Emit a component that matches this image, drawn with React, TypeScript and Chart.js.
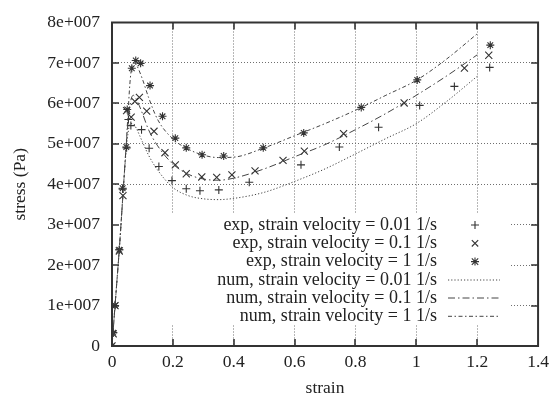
import React, { useEffect, useRef } from "react";
import { Chart, registerables } from "chart.js";

Chart.register(...registerables);

// ---- data ----
const xTickValues = [0, 0.2, 0.4, 0.6, 0.8, 1, 1.2, 1.4];
const yTickValues = [0, 1e7, 2e7, 3e7, 4e7, 5e7, 6e7, 7e7, 8e7];

const exp001X = [0, 0.004, 0.01, 0.024, 0.035, 0.048, 0.054, 0.062, 0.097, 0.122, 0.154, 0.197, 0.244, 0.289, 0.351, 0.451, 0.621, 0.747, 0.876, 1.011, 1.125, 1.241];
const exp001Y = [0, 0.33e7, 1.0e7, 2.38e7, 3.88e7, 4.9e7, 5.6e7, 5.45e7, 5.35e7, 4.89e7, 4.44e7, 4.09e7, 3.89e7, 3.84e7, 3.86e7, 4.05e7, 4.48e7, 4.92e7, 5.41e7, 5.95e7, 6.42e7, 6.89e7];

const exp01X = [0, 0.004, 0.01, 0.024, 0.036, 0.048, 0.063, 0.075, 0.09, 0.114, 0.138, 0.174, 0.208, 0.244, 0.295, 0.344, 0.394, 0.47, 0.562, 0.632, 0.761, 0.96, 1.158, 1.238];
const exp01Y = [0, 0.3e7, 1.0e7, 2.35e7, 3.72e7, 5.82e7, 5.66e7, 6.05e7, 6.15e7, 5.81e7, 5.31e7, 4.78e7, 4.48e7, 4.26e7, 4.18e7, 4.17e7, 4.23e7, 4.33e7, 4.59e7, 4.82e7, 5.25e7, 6.01e7, 6.87e7, 7.19e7];

const exp1X = [0, 0.004, 0.01, 0.024, 0.035, 0.047, 0.05, 0.065, 0.078, 0.094, 0.125, 0.166, 0.208, 0.244, 0.296, 0.367, 0.497, 0.63, 0.819, 1.003, 1.243];
const exp1Y = [0, 0.33e7, 1.0e7, 2.38e7, 3.9e7, 4.92e7, 5.85e7, 6.87e7, 7.06e7, 6.99e7, 6.44e7, 5.68e7, 5.14e7, 4.9e7, 4.73e7, 4.7e7, 4.9e7, 5.27e7, 5.9e7, 6.58e7, 7.44e7];

const numX = [0, 0.01, 0.025, 0.04, 0.05, 0.06, 0.07, 0.08, 0.1, 0.12, 0.15, 0.2, 0.25, 0.3, 0.35, 0.4, 0.5, 0.6, 0.7, 0.8, 0.9, 1.0, 1.1, 1.2];
const num001Y = [0, 1.0e7, 2.5e7, 4.2e7, 5.1e7, 5.5e7, 5.5e7, 5.38e7, 5.05e7, 4.72e7, 4.35e7, 3.92e7, 3.72e7, 3.64e7, 3.62e7, 3.65e7, 3.8e7, 4.07e7, 4.38e7, 4.75e7, 5.13e7, 5.5e7, 6.05e7, 6.67e7];
const num01Y = [0, 1.0e7, 2.5e7, 4.2e7, 5.3e7, 6.0e7, 6.2e7, 6.1e7, 5.75e7, 5.35e7, 4.95e7, 4.5e7, 4.25e7, 4.13e7, 4.1e7, 4.15e7, 4.38e7, 4.68e7, 4.98e7, 5.35e7, 5.75e7, 6.2e7, 6.68e7, 7.2e7];
const num1Y = [0, 1.0e7, 2.5e7, 4.2e7, 5.4e7, 6.6e7, 7.0e7, 6.95e7, 6.6e7, 6.15e7, 5.6e7, 5.12e7, 4.87e7, 4.72e7, 4.66e7, 4.67e7, 4.9e7, 5.2e7, 5.5e7, 5.83e7, 6.2e7, 6.57e7, 7.1e7, 7.72e7];

const legendLabels = [
  "exp, strain velocity = 0.01 1/s",
  "exp, strain velocity = 0.1 1/s",
  "exp, strain velocity = 1 1/s",
  "num, strain velocity = 0.01 1/s",
  "num, strain velocity = 0.1 1/s",
  "num, strain velocity = 1 1/s",
];

const xTitle = "strain";
const yTitle = "stress (Pa)";

// ---- styles ----
const FONT = "'Liberation Serif', 'DejaVu Serif', serif";
const FS = 17.5;
const LFS = 18;
const INK = "#333";
const LINE = "#444";
const dashes = [[1.2, 2], [7, 3, 1.5, 3], [4, 2.5, 1.5, 2.5]];
const markers = ["cross", "crossRot", "star"];

const zip = (xs: number[], ys: number[]) => xs.map((x, i) => ({ x, y: ys[i] }));

function drawMarker(ctx: CanvasRenderingContext2D, kind: string, x: number, y: number) {
  const r = 4;
  const d = 3.2;
  ctx.beginPath();
  if (kind === "cross" || kind === "star") {
    ctx.moveTo(x - r, y); ctx.lineTo(x + r, y);
    ctx.moveTo(x, y - r); ctx.lineTo(x, y + r);
  }
  if (kind === "crossRot" || kind === "star") {
    ctx.moveTo(x - d, y - d); ctx.lineTo(x + d, y + d);
    ctx.moveTo(x - d, y + d); ctx.lineTo(x + d, y - d);
  }
  ctx.stroke();
}

const frameLegendPlugin = {
  id: "frameLegend",
  beforeDatasetsDraw(chart: any) {
    const ctx = chart.ctx as CanvasRenderingContext2D;
    const a = chart.chartArea;
    ctx.save();
    ctx.fillStyle = "#fff";
    ctx.fillRect(a.left, 214, 509 - a.left, 111);
    ctx.restore();
  },
  afterDraw(chart: any) {
    const ctx = chart.ctx as CanvasRenderingContext2D;
    const a = chart.chartArea;
    const xs = chart.scales.x;
    const ys = chart.scales.y;
    ctx.save();
    ctx.strokeStyle = INK;
    ctx.lineWidth = 2;
    ctx.strokeRect(a.left, a.top, a.right - a.left, a.bottom - a.top);
    const tl = 7;
    ctx.lineWidth = 1.6;
    ctx.beginPath();
    xTickValues.forEach((v) => {
      const px = Math.round(xs.getPixelForValue(v));
      if (px <= a.left + 1 || px >= a.right - 1) return;
      ctx.moveTo(px, a.bottom); ctx.lineTo(px, a.bottom - tl);
      ctx.moveTo(px, a.top); ctx.lineTo(px, a.top + tl);
    });
    yTickValues.forEach((v) => {
      const py = Math.round(ys.getPixelForValue(v));
      if (py <= a.top + 1 || py >= a.bottom - 1) return;
      ctx.moveTo(a.left, py); ctx.lineTo(a.left + tl, py);
      ctx.moveTo(a.right, py); ctx.lineTo(a.right - tl, py);
    });
    ctx.stroke();
    const rows = [225, 243.3, 261.6, 280, 298, 316.3];
    ctx.font = `${LFS}px ${FONT}`;
    ctx.fillStyle = "#222";
    ctx.textAlign = "right";
    ctx.textBaseline = "middle";
    legendLabels.forEach((t, i) => {
      ctx.fillText(t, 437, rows[i]);
    });
    ctx.strokeStyle = INK;
    ctx.lineWidth = 1.1;
    for (let i = 0; i < 3; i++) drawMarker(ctx, markers[i], 475, rows[i]);
    ctx.strokeStyle = LINE;
    ctx.lineWidth = 1;
    for (let i = 0; i < 3; i++) {
      ctx.setLineDash(dashes[i]);
      ctx.beginPath();
      ctx.moveTo(448, rows[3 + i]);
      ctx.lineTo(500, rows[3 + i]);
      ctx.stroke();
    }
    ctx.restore();
  },
};

export default function App() {
  const ref = useRef<HTMLCanvasElement | null>(null);

  useEffect(() => {
    if (!ref.current) return;
    const expSets = [zip(exp001X, exp001Y), zip(exp01X, exp01Y), zip(exp1X, exp1Y)];
    const numSets = [zip(numX, num001Y), zip(numX, num01Y), zip(numX, num1Y)];
    const datasets: any[] = [];
    numSets.forEach((d, i) => {
      datasets.push({
        label: legendLabels[3 + i],
        data: d,
        showLine: true,
        borderColor: LINE,
        borderWidth: 1,
        borderDash: dashes[i],
        pointRadius: 0,
        cubicInterpolationMode: "monotone",
        fill: false,
      });
    });
    expSets.forEach((d, i) => {
      datasets.push({
        label: legendLabels[i],
        data: d,
        showLine: false,
        pointStyle: markers[i],
        pointRadius: i === 1 ? 5 : 4,
        borderColor: INK,
        backgroundColor: INK,
        pointBorderWidth: 1.1,
      });
    });

    const gridColor = (ctx: any, edges: number[]) =>
      edges.some((e) => Math.abs(ctx.tick?.value - e) < 1e-9) ? "rgba(0,0,0,0)" : "#6f6f6f";

    const chart = new Chart(ref.current, {
      type: "scatter",
      data: { datasets },
      plugins: [frameLegendPlugin],
      options: {
        animation: false,
        responsive: false,
        maintainAspectRatio: false,
        layout: { padding: { top: 21, right: 13, left: 0, bottom: 0 } },
        plugins: { legend: { display: false }, tooltip: { enabled: false } },
        scales: {
          x: {
            type: "linear",
            min: 0,
            max: 1.4,
            afterFit: (s: any) => { s.height = 52; },
            afterBuildTicks: (s: any) => { s.ticks = xTickValues.map((v) => ({ value: v })); },
            ticks: {
              color: "#222",
              font: { family: FONT, size: FS },
              padding: 6,
              maxRotation: 0,
              callback: (v: any) => String(Number(Number(v).toFixed(1))),
            },
            grid: {
              drawTicks: false,
              color: (c: any) => gridColor(c, [0, 1.4]),
              lineWidth: 1,
            },
            border: { display: false, dash: [1, 2] },
            title: {
              display: true,
              text: xTitle,
              color: "#222",
              font: { family: FONT, size: FS, lineHeight: 1 },
              padding: { top: 0, bottom: 1 },
            },
          },
          y: {
            type: "linear",
            min: 0,
            max: 8e7,
            afterFit: (s: any) => { s.width = 112; },
            afterBuildTicks: (s: any) => { s.ticks = yTickValues.map((v) => ({ value: v })); },
            ticks: {
              color: "#222",
              font: { family: FONT, size: FS },
              padding: 12,
              callback: (v: any) => (Number(v) === 0 ? "0" : `${Math.round(Number(v) / 1e7)}e+007`),
            },
            grid: {
              drawTicks: false,
              color: (c: any) => gridColor(c, [0, 8e7]),
              lineWidth: 1,
            },
            border: { display: false, dash: [1, 2] },
            title: {
              display: true,
              text: yTitle,
              color: "#222",
              font: { family: FONT, size: FS, lineHeight: 1 },
              padding: { top: 12, bottom: 0 },
            },
          },
        },
      } as any,
    });
    return () => chart.destroy();
  }, []);

  return (
    <div style={{ position: "fixed", left: 0, top: 0, width: 555, height: 398, background: "#fff" }}>
      <canvas ref={ref} width={555} height={398} style={{ display: "block" }} />
    </div>
  );
}
